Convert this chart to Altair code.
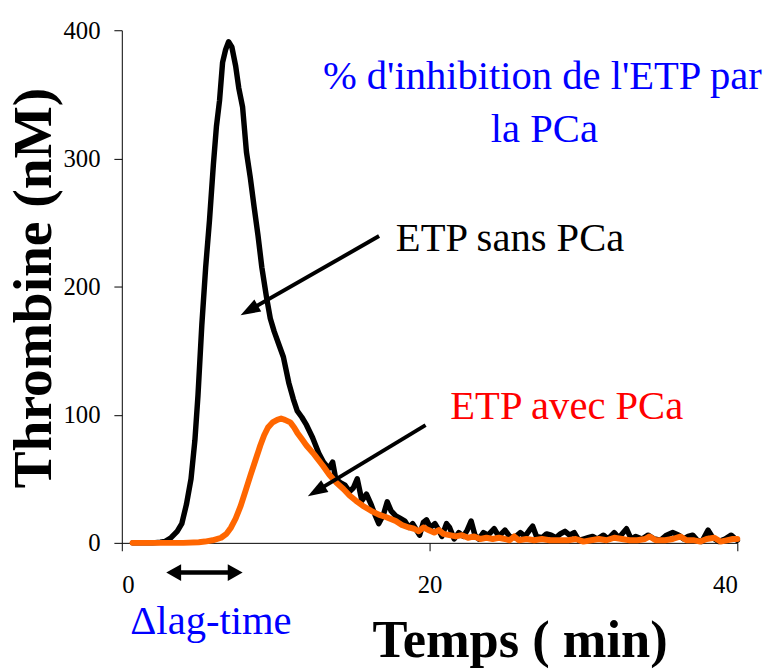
import altair as alt
import pandas as pd

# ---- data ----
black_t = [0.7, 1.5, 2.0, 2.5, 2.8, 3.2, 3.6, 3.9, 4.2, 4.5, 4.75, 4.95, 5.2, 5.45, 5.7, 5.95,
           6.15, 6.35, 6.55, 6.75, 6.94, 7.15, 7.4, 7.6, 7.85, 8.1, 8.35, 8.6, 8.85, 9.1, 9.4,
           9.65, 9.9, 10.2, 10.5, 10.85, 11.15, 11.4, 11.7, 12.0, 12.4, 12.8, 13.1, 13.45, 13.7,
           13.9, 14.2, 14.5, 14.8, 15.05, 15.3, 15.6, 15.9, 16.2, 16.45, 16.7, 17.0, 17.25, 17.5,
           17.8, 18.1, 18.4, 18.65, 18.9, 19.1, 19.35, 19.6, 19.8, 20.05, 20.35, 20.6, 20.8, 21.1,
           21.3, 21.6, 21.9, 22.2, 22.45, 22.7, 22.95, 23.2, 23.5, 23.8, 24.2, 24.5, 24.9, 25.2,
           25.5, 25.9, 26.2, 26.5, 26.7, 26.95, 27.3, 27.6, 27.9, 28.2, 28.5, 28.8, 29.1, 29.4,
           29.7, 30.0, 30.3, 30.6, 30.9, 31.3, 31.6, 32.0, 32.3, 32.8, 33.1, 33.4, 33.8, 34.2,
           34.6, 35.0, 35.4, 35.8, 36.2, 36.5, 36.8, 37.1, 37.4, 37.7, 38.1, 38.4, 38.8, 39.2,
           39.6, 39.8, 40.0]
black_y = [0, 0, 0, 0.5, 1, 4, 9, 15, 30, 50, 80, 115, 170, 215, 252, 295,
           325, 345, 375, 385, 391, 387, 372, 355, 340, 305, 285, 262, 240, 215, 192,
           175, 165, 155, 145, 125, 112, 103, 98, 92, 82, 70, 63, 58, 63,
           50, 47, 45, 40, 43, 50, 33, 38, 30, 22, 15, 22, 32, 25,
           21, 19, 17, 12, 15, 11, 6, 16, 18, 12, 15, 10, 5, 15,
           12, 3, 8, 5, 10, 17, 6, 3, 8, 6, 11, 5, 10, 5,
           4, 8, 5, 10, 13, 5, 4, 7, 6, 4, 7, 9, 6, 8,
           2, 3, 4, 5, 3, 6, 3, 8, 4, 11, 3, 5, 3, 6,
           3, 2, 6, 8, 6, 3, 5, 6, 2, 1, 10, 4, 1, 3,
           6, 4, 2]

orange_t = [0.7, 2.0, 4.0, 5.0, 5.4, 5.9, 6.45, 6.8, 7.1, 7.4, 7.73, 8.05, 8.37, 8.7, 9.0, 9.25,
            9.5, 9.8, 10.1, 10.35, 10.6, 10.95, 11.2, 11.4, 11.7, 12.0, 12.5, 13.08, 13.5, 13.94,
            14.4, 14.8, 15.2, 15.65, 16.2, 16.7, 17.2, 17.8, 18.2, 18.65, 19.0, 19.3, 19.6, 19.93,
            20.3, 20.6, 20.9, 21.3, 21.7, 22.1, 22.5, 22.9, 23.3, 23.7, 24.1, 24.5, 24.9, 25.2,
            25.5, 25.8, 26.3, 26.8, 27.3, 27.8, 28.4, 29.0, 29.5, 30.0, 30.5, 31.0, 31.5, 32.0,
            32.5, 33.0, 33.5, 34.0, 34.3, 34.7, 35.3, 35.8, 36.3, 36.7, 37.2, 37.6, 38.0, 38.5,
            38.9, 39.3, 39.7, 40.0]
orange_y = [0, 0, 0, 0.5, 1, 2, 4, 7, 12, 19, 29, 41, 53, 65, 76, 84,
            90, 94, 96, 97, 96, 94, 90, 86, 81, 76, 69, 60, 53, 47,
            42, 37, 33, 29, 25, 22, 20, 17, 14, 12, 11, 9, 12, 10,
            8, 10, 7, 6, 5, 6, 4, 5, 3, 4, 3, 4, 3, 2,
            5, 2, 3, 2, 3, 2, 2, 2, 3, 1, 2, 3, 2, 4,
            3, 2, 2, 3, 5, 2, 2, 3, 5, 2, 2, 1, 3, 4,
            1, 2, 3, 3]

x_ticks = [0, 20, 40]
y_ticks = [0, 100, 200, 300, 400]

# annotation texts (anchor positions in data units)
note_text = ["% d'inhibition de l'ETP par", "la PCa", "ETP sans PCa", "ETP avec PCa", "\u0394lag-time"]
note_t = [27.33, 27.46, 17.81, 21.35, 5.79]
note_y = [354.4, 312.7, 227.8, 96.5, -71.0]
note_color = ["#0000FF", "#0000FF", "#000000", "#FF0000", "#0000FF"]
note_align = ["center", "center", "left", "left", "center"]

# arrows: shaft start/end and head tip with direction angle
arrow_t = [16.72, 19.74]
arrow_y = [239.4, 91.9]
arrow_t2 = [8.39, 12.75]
arrow_y2 = [182.2, 41.1]
head_t = [7.72, 12.09]
head_y = [177.6, 36.3]
head_angle = [240.3, 238.8]

lag_t = [3.54]
lag_t2 = [7.2]
lag_y = [-23.2]
lag_head_t = [2.89, 7.85]
lag_head_y = [-23.2, -23.2]
lag_head_angle = [270, 90]

FONT = "Times New Roman, Liberation Serif, serif"

black_df = pd.DataFrame({"t": black_t, "y": black_y})
orange_df = pd.DataFrame({"t": orange_t, "y": orange_y})

xscale = alt.Scale(domain=[0, 40], nice=False, zero=False)
yscale = alt.Scale(domain=[0, 400], nice=False)

xaxis = alt.Axis(values=x_ticks, title="Temps ( min)", grid=False, tickSize=8,
                 labelPadding=42, labelBaseline="alphabetic", labelFontSize=25,
                 labelFont=FONT, labelColor="black", domainColor="black", tickColor="black",
                 titleFont=FONT, titleFontSize=53, titleFontWeight="bold", titleColor="black",
                 titleX=402, titleY=115, titleAlign="center", titleBaseline="alphabetic",
                 titleAngle=0)
yaxis = alt.Axis(values=y_ticks, title="Thrombine (nM)", grid=False, tickSize=8,
                 labelPadding=14, labelFontSize=25, labelFont=FONT, labelColor="black",
                 domainColor="black", tickColor="black",
                 titleFont=FONT, titleFontSize=56, titleFontWeight="bold", titleColor="black",
                 titleX=-72, titleY=260, titleAlign="center", titleBaseline="alphabetic",
                 titleAngle=270)

black_line = alt.Chart(black_df).mark_line(color="black", strokeWidth=5.5, strokeJoin="round",
                                           strokeCap="round").encode(
    x=alt.X("t:Q", scale=xscale, axis=xaxis),
    y=alt.Y("y:Q", scale=yscale, axis=yaxis),
)
orange_line = alt.Chart(orange_df).mark_line(color="#FF6600", strokeWidth=6, strokeJoin="round",
                                             strokeCap="round").encode(
    x=alt.X("t:Q", scale=xscale),
    y=alt.Y("y:Q", scale=yscale),
)

notes_df = pd.DataFrame({"t": note_t, "y": note_y, "text": note_text, "c": note_color,
                         "a": note_align})
notes_left = alt.Chart(notes_df[notes_df.a == "left"]).mark_text(
    font=FONT, fontSize=41, align="left", baseline="alphabetic").encode(
    x=alt.X("t:Q", scale=xscale), y=alt.Y("y:Q", scale=yscale), text="text:N",
    color=alt.Color("c:N", scale=None))
notes_center = alt.Chart(notes_df[notes_df.a == "center"]).mark_text(
    font=FONT, fontSize=41, align="center", baseline="alphabetic").encode(
    x=alt.X("t:Q", scale=xscale), y=alt.Y("y:Q", scale=yscale), text="text:N",
    color=alt.Color("c:N", scale=None))

arrows_df = pd.DataFrame({"t": arrow_t, "y": arrow_y, "t2": arrow_t2, "y2": arrow_y2})
shafts = alt.Chart(arrows_df).mark_rule(color="black", strokeWidth=4).encode(
    x=alt.X("t:Q", scale=xscale), y=alt.Y("y:Q", scale=yscale), x2="t2:Q", y2="y2:Q")
heads_df = pd.DataFrame({"t": head_t, "y": head_y, "ang": head_angle})
heads = alt.Chart(heads_df).mark_point(shape="M0,0L0.7,2L-0.7,2Z", size=400, filled=True,
                                       color="black", opacity=1, strokeWidth=0).encode(
    x=alt.X("t:Q", scale=xscale), y=alt.Y("y:Q", scale=yscale),
    angle=alt.Angle("ang:Q", scale=None))

lag_df = pd.DataFrame({"t": lag_t, "t2": lag_t2, "y": lag_y})
lag_shaft = alt.Chart(lag_df).mark_rule(color="black", strokeWidth=4.5).encode(
    x=alt.X("t:Q", scale=xscale), x2="t2:Q", y=alt.Y("y:Q", scale=yscale))
lag_heads_df = pd.DataFrame({"t": lag_head_t, "y": lag_head_y, "ang": lag_head_angle})
lag_heads = alt.Chart(lag_heads_df).mark_point(shape="M0,0L0.85,1.5L-0.85,1.5Z", size=400,
                                               filled=True, color="black", opacity=1,
                                               strokeWidth=0).encode(
    x=alt.X("t:Q", scale=xscale), y=alt.Y("y:Q", scale=yscale),
    angle=alt.Angle("ang:Q", scale=None))

chart = alt.layer(black_line, orange_line, shafts, heads, lag_shaft, lag_heads,
                  notes_left, notes_center).properties(
    width=622, height=518,
    autosize=alt.AutoSizeParams(type="none"),
    padding={"left": 115, "top": 19, "right": 32, "bottom": 124},
    background="white",
).configure_view(stroke=None)

chart.save("out.html", embed_options={"renderer": "svg", "actions": False})
